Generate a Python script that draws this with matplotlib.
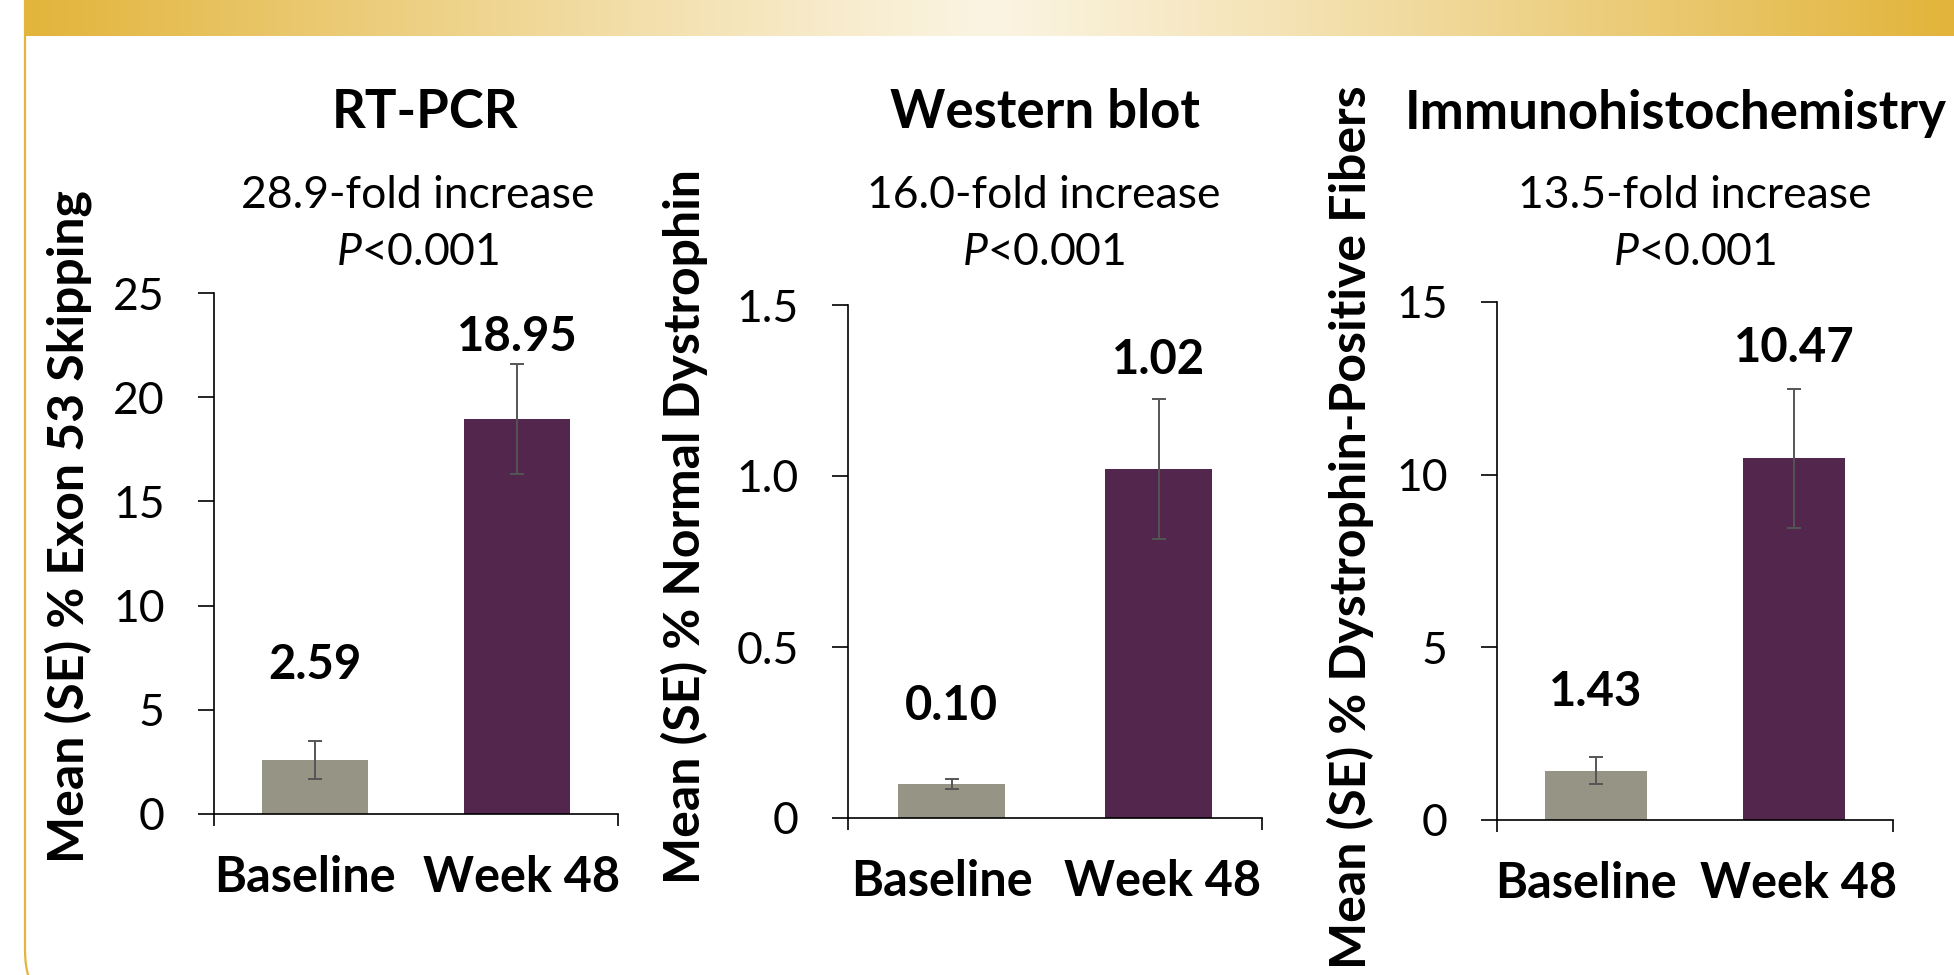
import numpy as np
import matplotlib.pyplot as plt
from matplotlib.patches import FancyBboxPatch
from matplotlib.transforms import IdentityTransform

plt.rcParams['font.family'] = ['Lato', 'DejaVu Sans']
plt.rcParams['mathtext.fontset'] = 'custom'
plt.rcParams['mathtext.it'] = 'Lato:italic'
plt.rcParams['mathtext.rm'] = 'Lato'

# ---- data ----
categories = ['Baseline', 'Week 48']
panel_titles = ['RT-PCR', 'Western blot', 'Immunohistochemistry']
fold_text = ['28.9-fold increase', '16.0-fold increase', '13.5-fold increase']
p_text = r'$\mathit{P}$<0.001'
y_labels = ['Mean (SE) % Exon 53 Skipping',
            'Mean (SE) % Normal Dystrophin',
            'Mean (SE) % Dystrophin-Positive Fibers']

rtpcr_mean = [2.59, 18.95]
rtpcr_se = [0.90, 2.65]
wb_mean = [0.10, 1.02]
wb_se = [0.015, 0.205]
ihc_mean = [1.43, 10.47]
ihc_se = [0.40, 2.02]

value_labels = [['2.59', '18.95'], ['0.10', '1.02'], ['1.43', '10.47']]
y_ticks = [[0, 5, 10, 15, 20, 25], [0, 0.5, 1.0, 1.5], [0, 5, 10, 15]]
y_tick_labels = [['0', '5', '10', '15', '20', '25'],
                 ['0', '0.5', '1.0', '1.5'],
                 ['0', '5', '10', '15']]

means = [rtpcr_mean, wb_mean, ihc_mean]
errors = [rtpcr_se, wb_se, ihc_se]

# ---- layout (pixels) ----
W, H = 1954, 975
axes_px = [(214, 618, 293, 814), (848, 1262, 305, 818), (1497, 1893, 302, 820)]
title_x = [425, 1045, 1676]
sub_x = [418, 1044, 1695]
ylabel_x = [68, 684, 1350]
label_offsets = [[55, 19.5], [52, 28], [47, 29]]  # points above error bar top
cat_dx = [-7, 3]      # points, horizontal nudge of category labels
cat_dy = -46          # points below the x axis

bar_colors = ['#969485', '#53264D']
gold = '#E3B53F'

fig = plt.figure(figsize=(W / 100, H / 100), dpi=100)
fig.patch.set_facecolor('white')

# rounded slide border
border = FancyBboxPatch((25, -40), 2200, 1100, boxstyle='round,pad=0,rounding_size=65',
                        transform=IdentityTransform(), fill=False,
                        edgecolor=gold, linewidth=1.6, zorder=0)
fig.add_artist(border)

# banner gradient
ax_b = fig.add_axes([25 / W, 1 - 36 / H, 1 - 25 / W, 36 / H])
t = np.linspace(0, 1, 600)
d = np.abs(t - 0.5) / 0.5
edge = np.array([226, 180, 58]) / 255
center = np.array([251, 244, 226]) / 255
grad = center[None, :] + (edge - center)[None, :] * d[:, None] ** 1.1
ax_b.imshow(grad[None, :, :], aspect='auto', extent=[0, 1, 0, 1])
ax_b.axis('off')

for i in range(3):
    l, r, top, bot = axes_px[i]
    ax = fig.add_axes([l / W, 1 - bot / H, (r - l) / W, (bot - top) / H])
    x = np.arange(len(categories))
    ax.bar(x, means[i], width=0.52, color=bar_colors, yerr=errors[i],
           error_kw=dict(ecolor='#555555', elinewidth=1.4, capsize=5, capthick=1.4))
    ax.set_xlim(-0.5, 1.5)
    ax.set_ylim(0, y_ticks[i][-1])

    ax.spines['top'].set_visible(False)
    ax.spines['right'].set_visible(False)
    ax.spines['left'].set_linewidth(1.2)
    ax.spines['bottom'].set_linewidth(1.2)

    ax.set_yticks(y_ticks[i])
    ax.set_yticklabels(y_tick_labels[i])
    ax.tick_params(axis='y', direction='out', length=11.5, width=1.2, pad=24, labelsize=32)

    # category axis: ticks only at the ends, labels drawn as text
    ax.set_xticks([-0.5, 1.5])
    ax.set_xticklabels([])
    ax.tick_params(axis='x', direction='out', length=8.6, width=1.2)

    for j in range(len(categories)):
        ax.annotate(categories[j], (x[j], 0), xytext=(cat_dx[j], cat_dy),
                    textcoords='offset points', ha='center', va='center',
                    fontsize=35, fontweight='bold', annotation_clip=False)
        ax.annotate(value_labels[i][j], (x[j], means[i][j] + errors[i][j]),
                    xytext=(0, label_offsets[i][j]), textcoords='offset points',
                    ha='center', va='center', fontsize=34, fontweight='bold')

    fig.text(title_x[i] / W, 1 - 113 / H, panel_titles[i], ha='center', va='center',
             fontsize=38, fontweight='bold')
    fig.text(sub_x[i] / W, 1 - 196 / H, fold_text[i], ha='center', va='center', fontsize=32)
    fig.text(sub_x[i] / W, 1 - 252 / H, p_text, ha='center', va='center', fontsize=32)
    fig.text(ylabel_x[i] / W, 1 - 527 / H, y_labels[i], ha='center', va='center',
             rotation=90, fontsize=36, fontweight='bold')

fig.savefig('out.png', dpi=100)
